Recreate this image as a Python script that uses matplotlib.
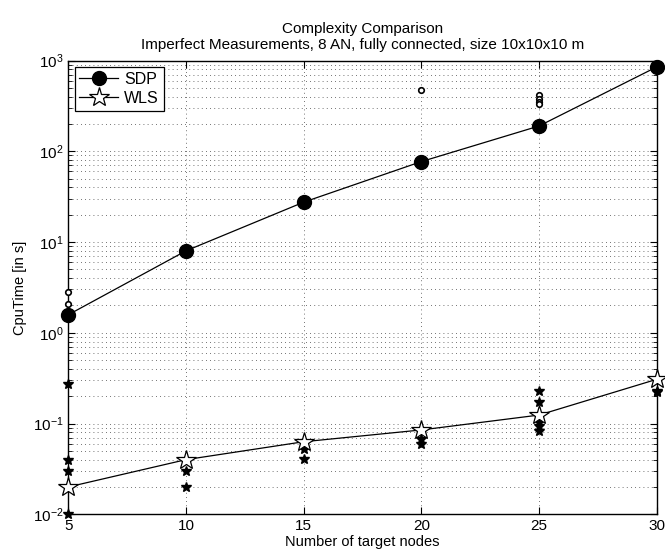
import matplotlib.pyplot as plt
from matplotlib.lines import Line2D

plt.rcParams['font.family'] = ['Liberation Sans', 'DejaVu Sans']

# number of target nodes
nodes = [5, 10, 15, 20, 25, 30]

# mean cpu time per method
sdp_mean = [1.58, 8.0, 27.5, 77, 190, 850]
wls_mean = [0.020, 0.040, 0.063, 0.085, 0.124, 0.307]

# single runs that stick out from the means
sdp_runs_x = [5, 5, 20, 25, 25, 25, 25, 25]
sdp_runs_y = [2.8, 2.1, 470, 414, 380, 350, 330, 200]

wls_runs_x = [5, 5, 5, 5, 10, 10, 15, 15, 20, 20,
              25, 25, 25, 25, 25, 30, 30]
wls_runs_y = [0.27, 0.040, 0.030, 0.010, 0.030, 0.020, 0.052, 0.041, 0.067, 0.060,
              0.228, 0.171, 0.105, 0.094, 0.083, 0.23, 0.22]

fig = plt.figure(figsize=(6.65, 5.54), dpi=100)
ax = fig.add_axes([0.1027, 0.0717, 0.8848, 0.819])

# individual runs
ax.plot(sdp_runs_x, sdp_runs_y, 'o', mfc='white', mec='black', ms=4, mew=1.2,
        zorder=3, clip_on=False)
ax.plot(wls_runs_x, wls_runs_y, '*', color='black', ms=7, zorder=3, clip_on=False)

# means
ax.plot(nodes, sdp_mean, '-o', color='black', lw=0.9, ms=10, mfc='black',
        zorder=4, clip_on=False, label='SDP')
ax.plot(nodes, wls_mean, '-*', color='black', lw=0.9, ms=15, mfc='white', mew=0.9,
        zorder=4, clip_on=False, label='WLS')

ax.set_yscale('log')
ax.set_xlim(5, 30)
ax.set_ylim(1e-2, 1e3)
ax.set_xticks(nodes)

ax.grid(True, which='major', axis='both', linestyle=(0, (1, 4)), color='#444444', lw=0.6)
ax.grid(True, which='minor', axis='y', linestyle=(0, (1, 4)), color='#444444', lw=0.6)
ax.tick_params(which='both', direction='in', top=True, right=True, labelsize=11)
ax.tick_params(which='major', length=5)
ax.tick_params(which='minor', length=3)
for s in ax.spines.values():
    s.set_linewidth(1.0)

ax.set_xlabel('Number of target nodes', fontsize=10.5, labelpad=1)
ax.set_ylabel('CpuTime [in s]', fontsize=10.5)
ax.set_title('Complexity Comparison\nImperfect Measurements, 8 AN, fully connected, size 10x10x10 m',
             fontsize=11, pad=8)

handles = [Line2D([], [], color='black', lw=0.9, marker='o', ms=10),
           Line2D([], [], color='black', lw=0.9, marker='*', ms=15, mfc='white', mew=0.9)]
leg = ax.legend(handles, ['SDP', 'WLS'], loc='upper left', fontsize=11.5, fancybox=False,
                edgecolor='black', framealpha=1, borderaxespad=0.4, handlelength=2.4,
                borderpad=0.3, labelspacing=0.25, handletextpad=0.4)
leg.get_frame().set_linewidth(0.9)

fig.savefig('out.png', dpi=100)
